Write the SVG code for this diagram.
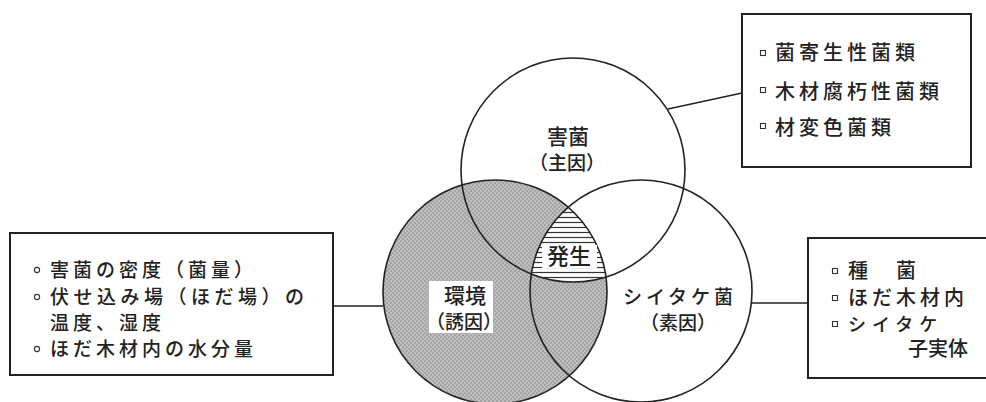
<svg xmlns="http://www.w3.org/2000/svg" width="986" height="402" viewBox="0 0 986 402">
<style>
.t{font-family:"Noto Sans CJK JP","Noto Sans CJK SC",sans-serif;fill:#222;font-weight:500;}
.box{fill:#fff;stroke:#222;stroke-width:2;}
.ring{fill:none;stroke:#222;stroke-width:1.6;}
.ln{stroke:#222;stroke-width:1.6;fill:none;}
.bs{fill:#fff;stroke:#333;stroke-width:1.1;}
</style>
<defs>
<pattern id="dots" patternUnits="userSpaceOnUse" width="4" height="4">
<rect width="4" height="4" fill="#bfbfbf"/>
<circle cx="1" cy="1" r="0.85" fill="#8c8c8c"/>
<circle cx="3" cy="3" r="0.85" fill="#8c8c8c"/>
</pattern>
<pattern id="hatch" patternUnits="userSpaceOnUse" width="10" height="5">
<rect width="10" height="5" fill="#fff"/>
<line x1="0" y1="2.5" x2="10" y2="2.5" stroke="#333" stroke-width="1.2"/>
</pattern>
<clipPath id="cTop"><circle cx="573" cy="170" r="112"/></clipPath>
<clipPath id="cRight"><circle cx="641" cy="291" r="111"/></clipPath>
</defs>
<rect width="986" height="402" fill="#fff"/>

<g id="connectors">
<line class="ln" x1="668" y1="109" x2="742" y2="93"/>
<line class="ln" x1="333" y1="306" x2="383" y2="306"/>
<line class="ln" x1="752" y1="303" x2="808" y2="303"/>
</g>

<g id="environment">
<circle cx="495" cy="292" r="112" fill="url(#dots)"/>
<g clip-path="url(#cTop)"><g clip-path="url(#cRight)">
<circle cx="495" cy="292" r="112" fill="url(#hatch)"/>
</g></g>
<rect x="429" y="281" width="64" height="52" fill="#fff"/>
<circle class="ring" cx="495" cy="292" r="112"/>
<text class="t" x="465" y="303" font-size="21" text-anchor="middle">環境</text>
<text class="t" x="464" y="329" font-size="19" text-anchor="middle">（誘因）</text>
</g>

<g id="pathogen">
<circle class="ring" cx="573" cy="170" r="112"/>
<text class="t" x="568" y="144" font-size="21" text-anchor="middle">害菌</text>
<text class="t" x="567" y="170" font-size="19" text-anchor="middle">（主因）</text>
</g>

<g id="shiitake">
<circle class="ring" cx="641" cy="291" r="111"/>
<text class="t" x="680" y="304" font-size="19" text-anchor="middle" letter-spacing="4">シイタケ菌</text>
<text class="t" x="678" y="330" font-size="19" text-anchor="middle">（素因）</text>
</g>

<g id="occurrence">
<rect x="542" y="245" width="55" height="23" fill="#fff"/>
<text class="t" x="569" y="264" font-size="22" text-anchor="middle">発生</text>
</g>

<g id="box-pathogen">
<rect class="box" x="742" y="14" width="229" height="153"/>
<rect class="bs" x="760.5" y="50.5" width="5" height="5"/>
<rect class="bs" x="760.5" y="87.5" width="5" height="5"/>
<rect class="bs" x="760.5" y="123.5" width="5" height="5"/>
<text class="t" x="775" y="60" font-size="20" letter-spacing="4">菌寄生性菌類</text>
<text class="t" x="775" y="99" font-size="20" letter-spacing="4">木材腐朽性菌類</text>
<text class="t" x="775" y="135" font-size="20" letter-spacing="4">材変色菌類</text>
</g>

<g id="box-environment">
<rect class="box" x="10" y="233" width="323" height="142"/>
<circle class="bs" cx="37" cy="270" r="2.6"/>
<circle class="bs" cx="37" cy="297" r="2.6"/>
<circle class="bs" cx="37" cy="349" r="2.6"/>
<text class="t" x="50" y="277" font-size="19" letter-spacing="4">害菌の密度（菌量）</text>
<text class="t" x="50" y="304" font-size="19" letter-spacing="4.5">伏せ込み場（ほだ場）の</text>
<text class="t" x="50" y="330" font-size="19" letter-spacing="4">温度、湿度</text>
<text class="t" x="50" y="356" font-size="19" letter-spacing="4">ほだ木材内の水分量</text>
</g>

<g id="box-shiitake">
<path d="M990,238 H808 V378 H990" class="box"/>
<rect class="bs" x="832.5" y="268.5" width="5" height="5"/>
<rect class="bs" x="832.5" y="295.5" width="5" height="5"/>
<rect class="bs" x="832.5" y="321.5" width="5" height="5"/>
<text class="t" x="848" y="278" font-size="20" letter-spacing="4">種　菌</text>
<text class="t" x="848" y="305" font-size="20" letter-spacing="4">ほだ木材内</text>
<text class="t" x="848" y="331" font-size="18" letter-spacing="6">シイタケ</text>
<text class="t" x="968" y="356" font-size="20" text-anchor="end">子実体</text>
</g>
</svg>
